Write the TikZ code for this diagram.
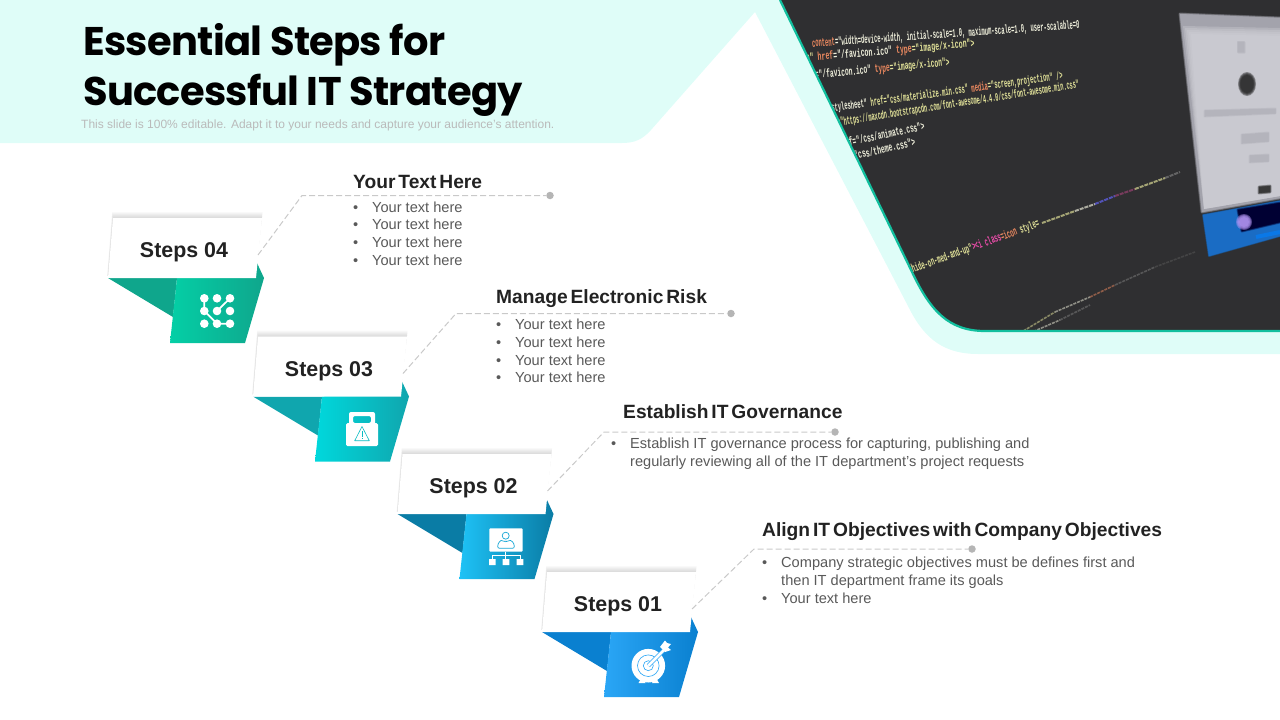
\documentclass[tikz,border=0pt]{standalone}
\usepackage{fontspec}
\usepackage{graphicx}
\setmainfont{Liberation Sans}
\newfontfamily\titlefont[LetterSpace=-1.8]{Poppins}
\newfontfamily\headfont[WordSpace=0.55]{Liberation Sans}
\newfontfamily\codefont{Liberation Mono}
\definecolor{mint}{HTML}{DFFDF8}
\definecolor{edge}{HTML}{12BF9E}
\definecolor{photo}{HTML}{2F2F31}
\definecolor{ink}{HTML}{222222}
\definecolor{bodyc}{HTML}{595959}
\definecolor{dash}{HTML}{C9C9C9}
\definecolor{cy}{HTML}{E4E49A}
\definecolor{co}{HTML}{EE8A60}
\definecolor{cw}{HTML}{F0F0DC}
\definecolor{dA}{HTML}{0A80D0}
\definecolor{lA}{HTML}{2AA6F6}
\definecolor{dB}{HTML}{0A7CA5}
\definecolor{lB}{HTML}{1EC2F6}
\definecolor{dC}{HTML}{10A6AE}
\definecolor{lC}{HTML}{00D8DC}
\definecolor{dD}{HTML}{0FA68C}
\definecolor{lD}{HTML}{04CFA6}
\definecolor{scrA}{HTML}{CFCFD6}
\definecolor{scrB}{HTML}{A3A3AC}
\definecolor{scrC}{HTML}{B4B4BC}
\definecolor{blu}{HTML}{1A6CC4}
\definecolor{purp}{HTML}{B496F5}
\tikzset{
  x=1pt,y=-1pt,
  cardlabel/.style={font=\fontsize{21.4}{25}\selectfont\bfseries,text=ink,inner sep=0pt},
  headtext/.style={font=\headfont\fontsize{19.2}{23}\selectfont\bfseries,text=ink,inner sep=0pt,anchor=base west},
  listtext/.style={font=\fontsize{14.6}{17.7}\selectfont,text=bodyc,inner sep=0pt,anchor=north west,align=left},
  leader/.style={draw=dash,line width=1pt,dash pattern=on 6pt off 3pt},
  leaderdot/.style={circle,fill=dash!90!black,inner sep=0pt,minimum size=7.5pt},
  codeline/.style={inner sep=0pt,anchor=west},
  titletext/.style={font=\titlefont\bfseries\fontsize{40}{50}\selectfont,text=black,inner sep=0pt,anchor=base west},
}
\newcommand{\bl}{\makebox[19pt][l]{\textbullet}}
\newcommand{\bc}{\hspace*{19pt}}
% soft-edged fill: #1 colour, #2 spread, #3 path
\newcommand{\soft}[3]{%
  \foreach \w in {1,.75,.5,.25}{\filldraw[#1,opacity=.3,line join=round,line width=\w*#2] #3;}%
  \fill[#1] #3;}
% #1 id, #2 dx, #3 dy, #4 dark, #5 light, #6 label
\newcommand{\stepblock}[6]{%
  \begin{scope}[shift={(#2,#3)}]
    \fill[#4] (108,278) -- (173,317) -- (177,278) -- cycle;
    \shade[left color=#5,right color=#4] (177,278) -- (170,343) -- (245,343) -- (264,278) -- (257,263) -- (250,270) -- cycle;
    \foreach \i in {1,...,6}{
      \fill[black,opacity=.024] (113-\i*.15,218-\i) -- (262+\i*.1,218-\i) -- (256,270) -- (108-\i*.15,276) -- cycle;
    }
    \fill[white] (113,218) -- (262,218) -- (256,278) -- (108,278) -- cycle;
    \node[cardlabel] (card#1) at (184,252.5) {#6};
    \coordinate (out#1) at (258,255);
  \end{scope}}
\newcommand{\code}[6]{\node[codeline,rotate=#3] (#6) at (#1,#2) {\resizebox{#4pt}{8.6pt}{\codefont\bfseries #5}};}
\begin{document}
\begin{tikzpicture}
\useasboundingbox (0,0) rectangle (1280,720);
% mint band
\fill[mint] (0,0) -- (1280,0) -- (1280,354) -- (978,354)
  .. controls (945,354) and (925,340) .. (909,308)
  -- (755,12) -- (651,130) .. controls (642,140) and (634,143) .. (622,143) -- (0,143) -- cycle;
% photo
\begin{scope}
  \clip (780,0) -- (912,272) .. controls (930,310) and (948,331) .. (985,331) -- (1280,331) -- (1280,0) -- cycle;
  \fill[photo] (770,0) rectangle (1280,335);
  \code{812}{44}{4}{268}{\textcolor{co}{content}\textcolor{cw}{="width=device-width, initial-scale=1.0, maximum-scale=1.0, user-scalable=0}}{c1}
  \code{790}{60}{5}{185}{\textcolor{cy}{"icon" }\textcolor{co}{href}\textcolor{cw}{="/favicon.ico" }\textcolor{co}{type}\textcolor{cy}{="image/x-icon">}}{c2}
  \code{800}{77}{5.5}{150}{\textcolor{cw}{href="/favicon.ico" }\textcolor{co}{type}\textcolor{cy}{="image/x-icon">}}{c3}
  \code{815}{111}{8}{250}{\textcolor{cw}{rel="stylesheet" }\textcolor{cy}{href="css/materialize.min.css" }\textcolor{co}{media}\textcolor{cy}{="screen,projection" />}}{c4}
  \code{825}{125}{9}{257}{\textcolor{cy}{href="https://maxcdn.bootstrapcdn.com/font-awesome/4.4.0/css/font-awesome.min.css"}}{c5}
  \code{838}{144}{12}{88}{\textcolor{cw}{href="/css/animate.css">}}{c6}
  \code{835}{160}{13}{82}{\textcolor{cw}{href="css/theme.css">}}{c7}
  \code{912}{270}{20}{135}{\textcolor{cy}{hide-on-med-and-up"}\textcolor{magenta!70!white}{><i class}\textcolor{co}{=icon }\textcolor{cy}{style=}}{c8}
  \foreach \xa/\ya/\xb/\yb/\cc in {
    1042/223/1075/211/cy,1075/211/1095/204/cw,1095/204/1115/196/blue!60!white,1115/196/1135/189/magenta!60!black,
    1135/189/1165/178/cy,1165/178/1180/172/gray}{
    \draw[\cc,line width=2pt,opacity=.65,dash pattern=on 4pt off 1pt] (\xa,\ya) -- (\xb,\yb);
  }
  \foreach \xa/\ya/\xb/\yb/\cc in {
    1020/333/1055/312/cy,1055/312/1090/297/cw,1090/297/1115/285/co,1115/285/1155/267/gray,1155/267/1195/252/gray!70!black,
    1030/333/1060/320/cw,1060/320/1090/305/gray}{
    \draw[\cc,line width=1.6pt,opacity=.5,dash pattern=on 3pt off 1pt] (\xa,\ya) -- (\xb,\yb);
  }
  % blurred monitor
  \soft{scrB}{3pt}{(1180,14) -- (1280,18) -- (1280,198) -- (1202,212) -- cycle}
  \foreach \d in {0,2,4,6,8}{\fill[scrA,opacity=.35] (1183+\d,26+\d) -- (1280,28+\d) -- (1280,196) -- (1204,209) -- cycle;}
  \soft{scrC}{3pt}{(1205,111) -- (1275,109) -- (1275,113) -- (1205,116) -- cycle}
  \soft{scrC}{3pt}{(1242,135) -- (1268,133) -- (1268,141) -- (1242,143) -- cycle}
  \soft{scrC}{3pt}{(1250,156) -- (1268,155) -- (1268,161) -- (1250,162) -- cycle}
  \soft{scrC}{3pt}{(1238,42) -- (1244,42) -- (1244,52) -- (1238,52) -- cycle}
  \soft{black!55!gray}{3pt}{(1259,187) -- (1270,186) -- (1270,192) -- (1259,193) -- cycle}
  \foreach \w in {12,11,10,9}{\fill[black!75!gray,opacity=.4] (1247,84) ellipse ({\w*.75} and \w);}
  \soft{blu}{2pt}{(1203,215) -- (1280,201) -- (1280,236) -- (1209,256) -- cycle}
  \soft{black!80!blue}{3pt}{(1238,210) -- (1280,203) -- (1280,222) -- (1242,231) -- cycle}
  \draw[blue!50!cyan,line width=4pt,opacity=.6] (1256,237) -- (1280,232);
  \foreach \w in {8,7,6,5}{\fill[purp,opacity=.45] (1244,222) circle (\w);}
\end{scope}
\draw[edge,line width=2.2pt] (780,0) -- (912,272) .. controls (930,310) and (948,331) .. (985,331) -- (1280,331);
% title
\node[titletext] (title1) at (83,55) {Essential Steps for};
\node[titletext] (title2) at (83,105) {Successful IT Strategy};
\node[font=\fontsize{12}{14}\selectfont,text=black!27,inner sep=0pt,anchor=base west] (subtitle) at (81,128) {This slide is 100\% editable. Adapt it to your needs and capture your audience’s attention.};
% steps
\stepblock{D}{0}{0}{dD}{lD}{Steps 04}
\stepblock{C}{145}{118.5}{dC}{lC}{Steps 03}
\stepblock{B}{289.5}{236}{dB}{lB}{Steps 02}
\stepblock{A}{434}{354}{dA}{lA}{Steps 01}
% icon 04
\foreach \ix in {204.3,217,230}{\foreach \iy in {298.3,311,323.7}{\fill[white] (\ix,\iy) circle (4.3);}}
\draw[white,line width=1.7pt] (230,298.3) -- (217,311);
\draw[white,line width=1.7pt] (204.3,298.3) -- (204.3,311) -- (217,323.7) -- (230,323.7);
% icon 03
\fill[white,even odd rule,rounded corners=2pt] (349,412) rectangle (375,426) (353,416) rectangle (371,423);
\fill[white,rounded corners=1.5pt] (346,423) rectangle (378,446);
\draw[lC!45!dC,line width=.6pt,line join=round] (362,426.5) -- (369.3,440.7) -- (354.7,440.7) -- cycle;
\draw[lC!45!dC,line width=1pt] (362,431) -- (362,436.5) (362,438) -- (362,439);
% icon 02
\fill[white,rounded corners=1pt] (489.3,528.3) rectangle (522.7,551.7);
\draw[lB!60!dB,line width=.7pt] (505.7,535.7) circle (3.5);
\draw[lB!60!dB,line width=.7pt,rounded corners=2pt] (497.5,548.3) .. controls (498,542) and (501,540.5) .. (503,540) -- (505.7,542.5) -- (508.4,540) .. controls (511,540.5) and (514,542) .. (514.5,548.3) -- cycle;
\draw[white,line width=.9pt] (505.7,551.7) -- (505.7,559) (492.3,559) -- (492.3,555) -- (520,555) -- (520,559);
\fill[white] (489,559) rectangle (495.7,565) (502.7,559) rectangle (509.3,565) (516.7,559) rectangle (523.3,565);
% icon 01
\fill[white] (638.5,683) -- (642,677) -- (645.5,683) -- cycle;
\fill[white] (652,683) -- (655.5,677) -- (659,683) -- cycle;
\fill[white] (648.3,665.7) circle (16.8);
\draw[lA,line width=.6pt] (648.3,665.7) circle (10.8) (648.3,665.7) circle (5);
\draw[lA,line width=4pt] (648.3,665.7) -- (664,650);
\draw[white,line width=2.6pt] (648.3,665.7) -- (664,650);
\fill[white] (660,647) -- (665,652) -- (671,650) -- (668,647.5) -- (671,644) -- (667,643) -- (665,640.5) -- cycle;
% step text
\node[headtext] (headD) at (353,188) {Your Text Here};
\node[listtext] (listD) at (353,201.5) {\bl Your text here\\ \bl Your text here\\ \bl Your text here\\ \bl Your text here};
\node[headtext] (headC) at (496,303) {Manage Electronic Risk};
\node[listtext] (listC) at (496,319) {\bl Your text here\\ \bl Your text here\\ \bl Your text here\\ \bl Your text here};
\node[headtext] (headB) at (623,418) {Establish IT Governance};
\node[listtext] (listB) at (611,438) {\bl Establish IT governance process for capturing, publishing and\\ \bc regularly reviewing all of the IT department’s project requests};
\node[headtext] (headA) at (762,536) {Align IT Objectives with Company Objectives};
\node[listtext] (listA) at (762,557) {\bl Company strategic objectives must be defines first and\\ \bc then IT department frame its goals\\ \bl Your text here};
% leaders
\node[leaderdot] (dotD) at (550,195.5) {};
\node[leaderdot] (dotC) at (731,313.5) {};
\node[leaderdot] (dotB) at (835,432) {};
\node[leaderdot] (dotA) at (972,549) {};
\draw[leader] (outD) -- (302,195.5) -- (dotD);
\draw[leader] (outC) -- (456,313.5) -- (dotC);
\draw[leader] (outB) -- (604,432) -- (dotB);
\draw[leader] (outA) -- (754,549) -- (dotA);
\end{tikzpicture}
\end{document}
